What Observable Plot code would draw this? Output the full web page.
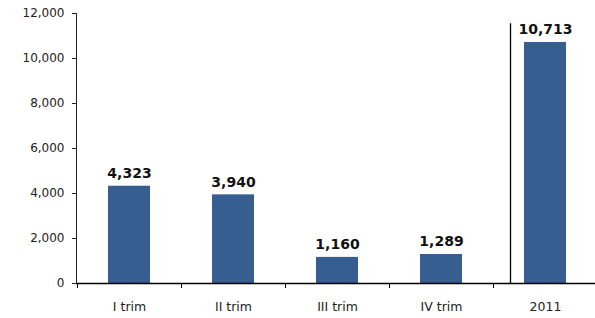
<!DOCTYPE html>
<html>
<head>
<meta charset="utf-8">
<script src="https://cdn.jsdelivr.net/npm/d3@7"></script>
<script src="https://cdn.jsdelivr.net/npm/@observablehq/plot@0.6"></script>
<style>
  html, body { margin: 0; padding: 0; background: #fff; }
  #chart svg { display: block; }
</style>
</head>
<body>
<div id="chart"></div>
<script>
const categories = ["I trim", "II trim", "III trim", "IV trim", "2011"];
const values = [4323, 3940, 1160, 1289, 10713];
const yTicks = [0, 2000, 4000, 6000, 8000, 10000, 12000];

const data = categories.map((c, i) => ({category: c, value: values[i]}));
const fmt = d3.format(",");
const font = "Verdana, 'DejaVu Sans', sans-serif";

const chart = Plot.plot({
  width: 595,
  height: 318,
  marginLeft: 76,
  marginRight: -2,
  marginTop: 13,
  marginBottom: 35,
  style: {fontFamily: font, fontSize: "12px", color: "#222", background: "#fff"},
  x: {domain: categories, paddingInner: 0.6, paddingOuter: 0.3, label: null},
  y: {domain: [0, 12000], ticks: yTicks, tickFormat: fmt, tickSize: 4, tickPadding: 8, label: null, line: true},
  marks: [
    Plot.axisX({tickSize: 0, tickPadding: 19, fontSize: 12.5, fill: "#222", label: null}),
    Plot.barY(data, {x: "category", y: "value", fill: "#365E90"}),
    Plot.text(data, {x: "category", y: "value", text: d => fmt(d.value), lineAnchor: "bottom", dy: -8, fontWeight: "bold", fontSize: 14, fill: "#111"}),
    Plot.ruleY([0], {stroke: "#000", strokeWidth: 1.3}),
    Plot.ruleX(categories, {x: d => d, y1: 0, y2: 0, insetBottom: -5, dx: -52, stroke: "#000"}),
    Plot.ruleX(["2011"], {x: d => d, y1: 0, y2: 11550, dx: -35, stroke: "#000", strokeWidth: 1.3})
  ]
});
document.getElementById("chart").appendChild(chart);
</script>
</body>
</html>
